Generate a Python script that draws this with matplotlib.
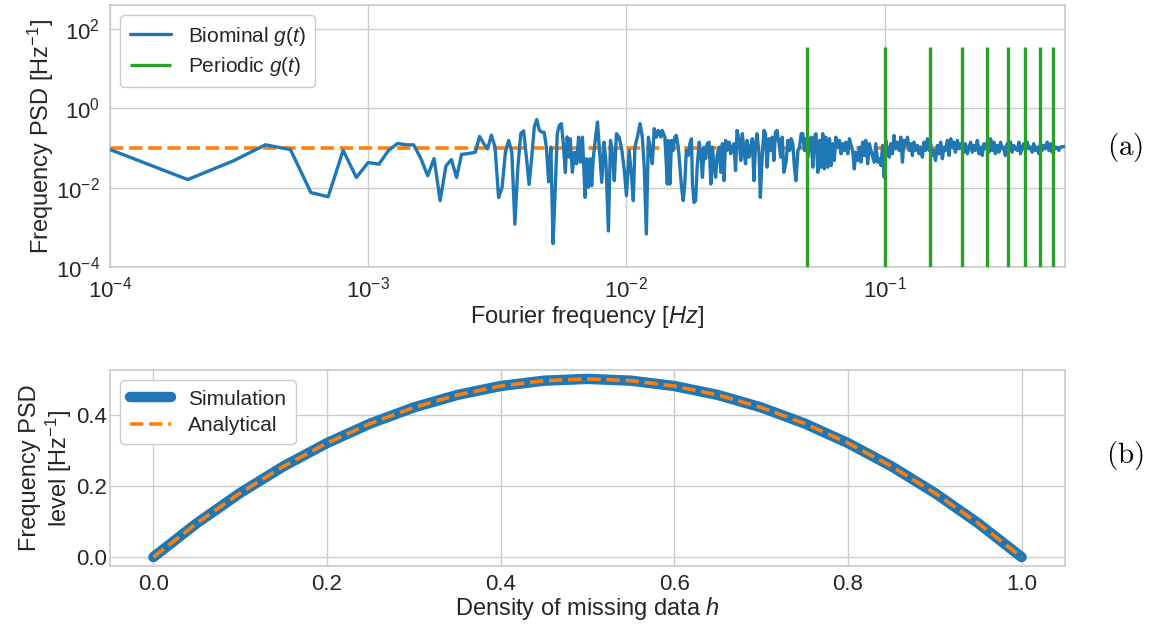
import numpy as np
import matplotlib
matplotlib.use("Agg")
import matplotlib.pyplot as plt

plt.style.use("seaborn-v0_8-whitegrid")
plt.rcParams["font.family"] = ["Liberation Sans", "DejaVu Sans"]
plt.rcParams["mathtext.fontset"] = "custom"
plt.rcParams["mathtext.rm"] = "Liberation Sans"
plt.rcParams["mathtext.it"] = "Liberation Sans:italic"
plt.rcParams["mathtext.bf"] = "Liberation Sans:bold"
plt.rcParams["text.color"] = ".15"
plt.rcParams["axes.labelcolor"] = ".15"
plt.rcParams["xtick.color"] = ".15"
plt.rcParams["ytick.color"] = ".15"

# ---------------- data: panel (a) ----------------
df = 1e-4
# PSD of first 60 Fourier bins (f = k * df, k = 1..60)
low_psd = [0.091, 0.016, 0.047, 0.12, 0.091, 0.0075, 0.0059, 0.087, 0.018, 0.043,
           0.039, 0.087, 0.13, 0.12, 0.12, 0.054, 0.020, 0.054, 0.0047, 0.035,
           0.051, 0.018, 0.069, 0.071, 0.074, 0.078, 0.195, 0.13, 0.095, 0.21,
           0.105, 0.0056, 0.010, 0.078, 0.155, 0.078, 0.0012, 0.033, 0.23, 0.27,
           0.059, 0.012, 0.059, 0.34, 0.52, 0.28, 0.25, 0.25, 0.105, 0.014,
           0.105, 0.00039, 0.0083, 0.23, 0.37, 0.41, 0.13, 0.024, 0.19, 0.059]

high_freq = [
    0.00606, 0.00618, 0.00629, 0.00641, 0.00653, 0.00663, 0.00676, 0.00692,
    0.00701, 0.00713, 0.00724, 0.00734, 0.00745, 0.00760, 0.00773, 0.00787,
    0.00803, 0.00819, 0.00833, 0.00852, 0.00868, 0.00883, 0.00898, 0.00915,
    0.00937, 0.00959, 0.00982, 0.01001, 0.01025, 0.01048, 0.01064, 0.01079,
    0.01103, 0.01130, 0.01153, 0.01173, 0.01195, 0.01217, 0.01235, 0.01260,
    0.01282, 0.01307, 0.01330, 0.01362, 0.01377, 0.01410, 0.01441,
    0.01453, 0.01475, 0.01496, 0.01518, 0.01540, 0.01561, 0.01589, 0.01613,
    0.01636, 0.01660, 0.01684, 0.01707, 0.01736, 0.01762, 0.01787, 0.01803,
    0.01829, 0.01855, 0.01880, 0.01915, 0.01944, 0.01971, 0.02000, 0.02029,
    0.02056, 0.02092, 0.02124, 0.02154, 0.02185, 0.02217, 0.02246, 0.02287,
    0.02322, 0.02354, 0.02389, 0.02423, 0.02455, 0.02500, 0.02538, 0.02573,
    0.02611, 0.02648, 0.02684, 0.02733, 0.02774, 0.02813, 0.02854, 0.02895,
    0.02934, 0.02987, 0.03032, 0.03075, 0.03120, 0.03165, 0.03207, 0.03266,
    0.03303, 0.03353, 0.03411, 0.03460, 0.03506, 0.03569, 0.03623, 0.03674,
    0.03728, 0.03781, 0.03832, 0.03901, 0.03960, 0.04016, 0.04074,
    0.04154, 0.04224, 0.04288, 0.04349, 0.04413, 0.04477, 0.04537, 0.04617,
    0.04687, 0.04753, 0.04823, 0.04893, 0.04959, 0.05047, 0.05124, 0.05196,
    0.05273, 0.05349, 0.05421, 0.05516, 0.05600, 0.05679, 0.05763, 0.05846,
    0.05925, 0.06030, 0.06122, 0.06208, 0.06300, 0.06391, 0.06477, 0.06591,
    0.06691, 0.06785, 0.06886, 0.06985, 0.07079, 0.07204, 0.07313, 0.07417,
    0.07526, 0.07635, 0.07738, 0.07874, 0.07994, 0.08106, 0.08226, 0.08345,
    0.08457, 0.08607, 0.08738, 0.08861, 0.09122, 0.09245, 0.09408, 0.09551,
    0.09686, 0.09829, 0.09971, 0.1011, 0.1027, 0.1043, 0.1057, 0.1073,
    0.1088, 0.1103, 0.1123,
    0.1140, 0.1156, 0.1173, 0.1190, 0.1206, 0.1227, 0.1246, 0.1263,
    0.1282, 0.1300, 0.1318, 0.1341, 0.1361, 0.1381, 0.1401, 0.1421,
    0.1440, 0.1466, 0.1488, 0.1509, 0.1532, 0.1554, 0.1575, 0.1603,
    0.1627, 0.1650, 0.1675, 0.1699, 0.1722, 0.1752, 0.1779, 0.1804,
    0.1830, 0.1857, 0.1882, 0.1915, 0.1944, 0.1971, 0.2001, 0.2030,
    0.2057, 0.2093, 0.2125, 0.2155, 0.2187, 0.2218, 0.2248, 0.2288,
    0.2323, 0.2355, 0.2390, 0.2425, 0.2458, 0.2501, 0.2539, 0.2575,
    0.2613, 0.2651, 0.2686, 0.2733, 0.2775, 0.2814, 0.2855, 0.2896,
    0.2936, 0.2988, 0.3033, 0.3076, 0.3122, 0.3167, 0.3209, 0.3266,
    0.3316, 0.3362, 0.3412, 0.3461, 0.3508, 0.3570, 0.3624, 0.3675,
    0.3730, 0.3783, 0.3835, 0.3902, 0.3961, 0.4017, 0.4076, 0.4135,
    0.4191, 0.4265, 0.4330, 0.4391, 0.4456, 0.4520, 0.4581, 0.4662,
    0.4733, 0.4800, 0.4999]

high_psd = [
    0.171, 0.0243, 0.078, 0.040, 0.187, 0.0437, 0.187, 0.0057,
    0.0534, 0.0102, 0.0534, 0.0112, 0.0587, 0.187, 0.450, 0.0865,
    0.0136, 0.140, 0.0483, 0.00081, 0.155, 0.0713, 0.0150, 0.229,
    0.187, 0.0955, 0.0269, 0.0063, 0.0865, 0.0182, 0.0047, 0.105,
    0.187, 0.410, 0.187, 0.0327, 0.00068, 0.187, 0.105, 0.0398,
    0.306, 0.187, 0.277, 0.187, 0.277, 0.187, 0.0123,
    0.155, 0.0123, 0.155, 0.0865, 0.187, 0.207, 0.105, 0.0327,
    0.0102, 0.0047, 0.0123, 0.0865, 0.0646, 0.128, 0.171, 0.0123,
    0.0042, 0.0047, 0.0327, 0.140, 0.0713, 0.0182, 0.105, 0.0534,
    0.128, 0.140, 0.0123, 0.105, 0.0327, 0.0182, 0.0646, 0.105,
    0.0243, 0.128, 0.0150, 0.155, 0.0865, 0.140, 0.0713, 0.105,
    0.128, 0.0269, 0.277, 0.155, 0.0483, 0.229, 0.0865, 0.0398,
    0.155, 0.0587, 0.105, 0.171, 0.0150, 0.128, 0.229, 0.0713,
    0.0057, 0.0483, 0.277, 0.229, 0.0327, 0.171, 0.0865, 0.187,
    0.0483, 0.251, 0.277, 0.128, 0.0587, 0.187, 0.0243,
    0.0437, 0.155, 0.0865, 0.171, 0.128, 0.0327, 0.0150, 0.0865,
    0.105, 0.229, 0.229, 0.0865, 0.171, 0.0587, 0.155, 0.187,
    0.0327, 0.187, 0.229, 0.0243, 0.155, 0.0327, 0.229, 0.0297,
    0.187, 0.0327, 0.171, 0.0359, 0.128, 0.0483, 0.187, 0.105,
    0.155, 0.0713, 0.128, 0.0865, 0.140, 0.0713, 0.171, 0.116,
    0.0865, 0.0297, 0.078, 0.0483, 0.105, 0.0437, 0.140, 0.0646,
    0.155, 0.0398, 0.128, 0.0865, 0.0437, 0.128, 0.0437, 0.0534,
    0.0359, 0.116, 0.0182, 0.155, 0.0865, 0.0587, 0.128, 0.0713,
    0.207, 0.0955, 0.140,
    0.0865, 0.187, 0.0437, 0.155, 0.116, 0.187, 0.0865, 0.128,
    0.0646, 0.140, 0.0865, 0.116, 0.0713, 0.105, 0.0587, 0.140,
    0.0865, 0.171, 0.0865, 0.128, 0.0646, 0.0865, 0.0483, 0.116,
    0.0713, 0.140, 0.0534, 0.105, 0.0865, 0.155, 0.0646, 0.171,
    0.105, 0.140, 0.078, 0.155, 0.0955, 0.128, 0.105, 0.078,
    0.128, 0.0713, 0.105, 0.140, 0.078, 0.116, 0.0865, 0.155,
    0.0713, 0.105, 0.0646, 0.128, 0.0955, 0.140, 0.078, 0.171,
    0.0865, 0.140, 0.0713, 0.116, 0.078, 0.140, 0.0955, 0.105,
    0.0646, 0.128, 0.0865, 0.140, 0.078, 0.116, 0.0955, 0.0865,
    0.140, 0.0713, 0.105, 0.128, 0.0865, 0.140, 0.0955, 0.105,
    0.078, 0.128, 0.0865, 0.105, 0.0713, 0.128, 0.0865, 0.116,
    0.0955, 0.140, 0.0865, 0.128, 0.078, 0.116, 0.0955, 0.105,
    0.0865, 0.105, 0.109]

level_a = 0.1                      # analytical PSD level (orange dashed)
periodic_freq = [0.05, 0.10, 0.15, 0.20, 0.25, 0.30, 0.35, 0.40, 0.45]
periodic_peak = [35, 35, 35, 35, 35, 35, 35, 35, 35]
periodic_floor = 1e-8

# ---------------- data: panel (b) ----------------
h_vals = [0.0, 0.05, 0.10, 0.15, 0.20, 0.25, 0.30, 0.35, 0.40, 0.45, 0.50,
          0.55, 0.60, 0.65, 0.70, 0.75, 0.80, 0.85, 0.90, 0.95, 1.0]
sim_level = [0.0, 0.095, 0.18, 0.255, 0.32, 0.375, 0.42, 0.455, 0.48, 0.495, 0.50,
             0.495, 0.48, 0.455, 0.42, 0.375, 0.32, 0.255, 0.18, 0.095, 0.0]
ana_level = [0.0, 0.095, 0.18, 0.255, 0.32, 0.375, 0.42, 0.455, 0.48, 0.495, 0.50,
             0.495, 0.48, 0.455, 0.42, 0.375, 0.32, 0.255, 0.18, 0.095, 0.0]

assert len(high_freq) == len(high_psd)
blue_freq = np.concatenate([np.arange(1, len(low_psd) + 1) * df, high_freq])
blue_psd = np.concatenate([low_psd, high_psd])

C_BLUE = "#1f77b4"
C_ORANGE = "#ff7f0e"
C_GREEN = "#2ca02c"
FS_LABEL = 17
FS_TICK = 16
FS_LEG = 15

fig = plt.figure(figsize=(11.62, 6.25), dpi=100)
ax1 = fig.add_axes([110 / 1162, 1 - 267 / 625, 955 / 1162, 262 / 625])
ax2 = fig.add_axes([110 / 1162, 1 - 566 / 625, 955 / 1162, 196 / 625])

for ax in (ax1, ax2):
    for s in ax.spines.values():
        s.set_color(".8")
        s.set_linewidth(1.25)
    ax.grid(True, color=".8", linewidth=1.0)
    ax.tick_params(labelsize=FS_TICK, length=0)
ax1.tick_params(axis="both", pad=7)
ax2.tick_params(axis="x", pad=6)
ax2.tick_params(axis="y", pad=2)

# panel (a)
ax1.set_xscale("log")
ax1.set_yscale("log")
ax1.plot([blue_freq[0], blue_freq[-1]], [level_a, level_a], color=C_ORANGE,
         lw=2.6, ls="--", zorder=2)
ax1.plot(blue_freq, blue_psd, color=C_BLUE, lw=2.4, zorder=3,
         label=r"Biominal $g(t)$")
ax1.vlines(periodic_freq, periodic_floor, periodic_peak, color=C_GREEN, lw=2.4,
           zorder=4, label=r"Periodic $g(t)$")
ax1.set_xlim(1e-4, 0.5)
ax1.set_ylim(1e-4, 400)
ax1.set_yticks([1e-4, 1e-2, 1e0, 1e2])
ax1.minorticks_off()
ax1.set_xlabel(r"Fourier frequency [$Hz$]", fontsize=FS_LABEL, labelpad=1)
ax1.set_ylabel(r"Frequency PSD [Hz$^{-1}$]", fontsize=FS_LABEL, labelpad=0)
ax1.legend(loc="upper left", fontsize=FS_LEG, frameon=True, fancybox=True,
           framealpha=1.0, edgecolor=".8", borderpad=0.45, labelspacing=0.35)

# panel (b)
ax2.plot(h_vals, sim_level, color=C_BLUE, lw=7.5, solid_capstyle="round",
         label="Simulation")
ax2.plot(h_vals, ana_level, color=C_ORANGE, lw=2.6, ls="--", label="Analytical")
ax2.set_xticks([0.0, 0.2, 0.4, 0.6, 0.8, 1.0])
ax2.set_yticks([0.0, 0.2, 0.4])
ax2.set_xlabel(r"Density of missing data $h$", fontsize=FS_LABEL, labelpad=0)
ax2.set_ylabel("Frequency PSD\n" + r"level [Hz$^{-1}$]", fontsize=FS_LABEL,
               labelpad=2, linespacing=1.1)
ax2.legend(loc="upper left", fontsize=FS_LEG, frameon=True, fancybox=True,
           framealpha=1.0, edgecolor=".8", borderpad=0.45, labelspacing=0.35)

fig.text(1125 / 1162, 1 - 147 / 625, r"$\mathrm{(a)}$", fontsize=21,
         ha="center", va="center", math_fontfamily="cm", color="black")
fig.text(1125 / 1162, 1 - 455 / 625, r"$\mathrm{(b)}$", fontsize=21,
         ha="center", va="center", math_fontfamily="cm", color="black")

fig.savefig("out.png", dpi=100)
